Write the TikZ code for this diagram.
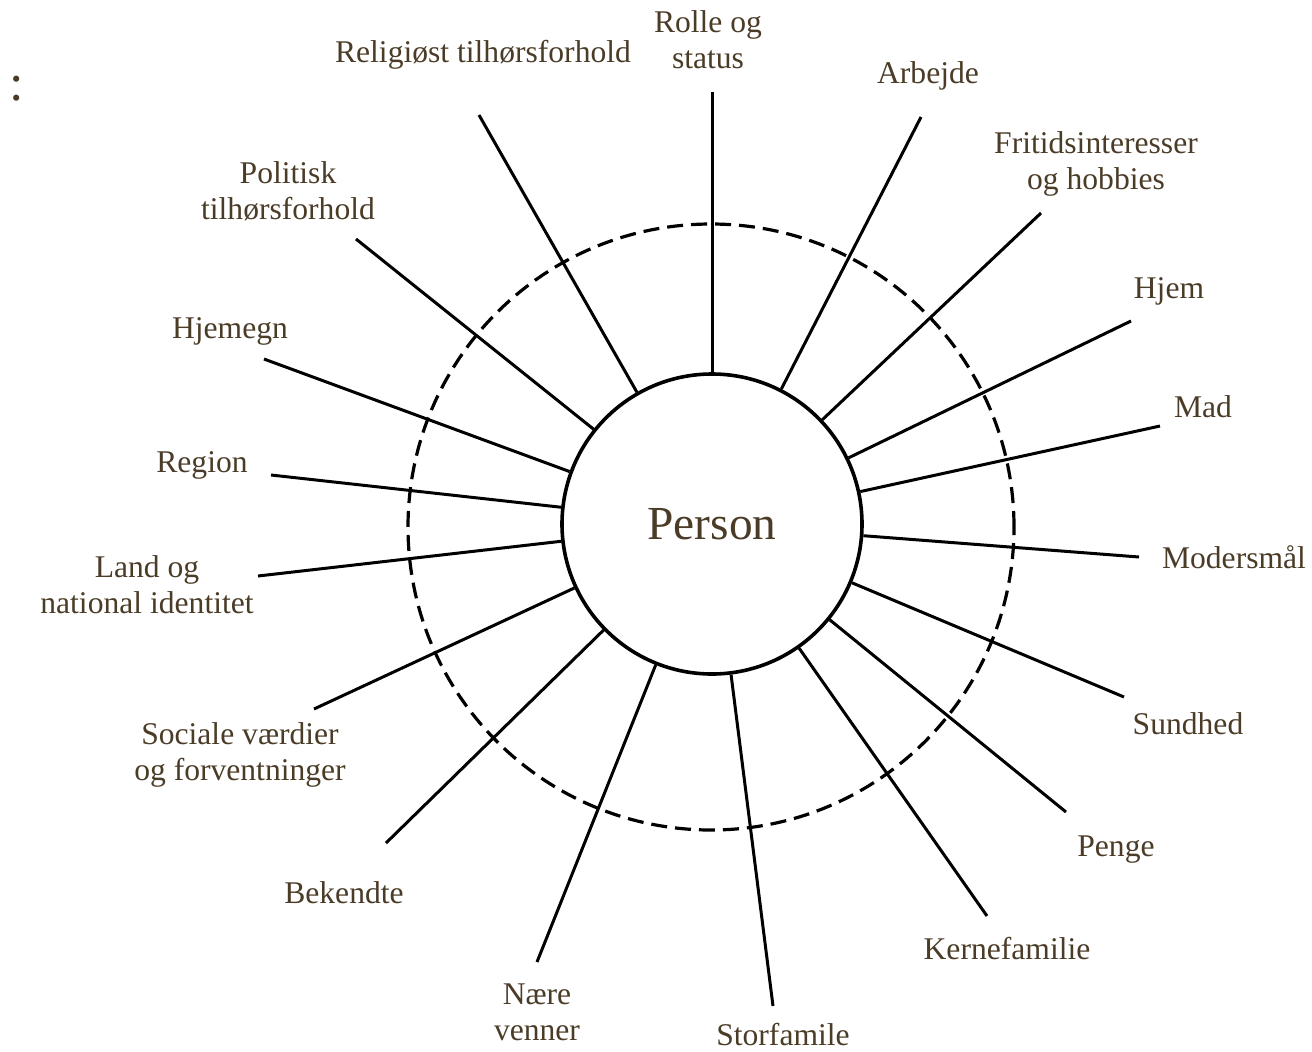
\documentclass[tikz,border=0pt]{standalone}
\usepackage{fontspec}
\setmainfont{Liberation Serif}
\definecolor{textbrown}{RGB}{75,60,40}
\begin{document}
\begin{tikzpicture}[x=0.5pt,y=-0.5pt,
  lbl/.style={text=textbrown, font=\fontsize{15.8pt}{18pt}\selectfont, align=center, anchor=base, inner sep=0pt},
  spoke/.style={line width=1.5pt, black},
  dashring/.style={line width=1.6pt, dash pattern=on 8pt off 4pt},
  personnode/.style={circle, draw, line width=1.8pt, minimum size=150pt, inner sep=0pt, text=textbrown, font=\fontsize{23.7pt}{28pt}\selectfont}]
\useasboundingbox (0,0) rectangle (1312,1051);
\draw[dashring] (711,527) circle[radius=151.5pt];
\node[personnode, fill=white] (P) at (712,524) {Person};
% outer ends
\coordinate (o1) at (712,92);
\coordinate (o2) at (921,117);
\coordinate (o3) at (1041,213);
\coordinate (o4) at (1131,321);
\coordinate (o5) at (1160,426);
\coordinate (o6) at (1139,557);
\coordinate (o7) at (1124,697);
\coordinate (o8) at (1066,812);
\coordinate (o9) at (987,916);
\coordinate (o10) at (773,1006);
\coordinate (o11) at (537,962);
\coordinate (o12) at (386,843);
\coordinate (o13) at (314,709);
\coordinate (o14) at (258,576);
\coordinate (o15) at (271,475);
\coordinate (o16) at (264,359);
\coordinate (o17) at (356,239);
\coordinate (o18) at (479,115);
\foreach \i in {1,...,18} { \draw[spoke] (P) -- (o\i); }
% labels (multi-line: anchor at baseline of last line)
\node[lbl] (l1) at (708,68) {Rolle og\\status};
\node[lbl] (l2) at (928,83) {Arbejde};
\node[lbl] (l3) at (1096,189) {Fritidsinteresser\\og hobbies};
\node[lbl] (l4) at (1169,298) {Hjem};
\node[lbl] (l5) at (1203,417) {Mad};
\node[lbl] (l6) at (1234,568) {Modersmål};
\node[lbl] (l7) at (1188,734) {Sundhed};
\node[lbl] (l8) at (1116,856) {Penge};
\node[lbl] (l9) at (1007,959) {Kernefamilie};
\node[lbl] (l10) at (783,1045) {Storfamile};
\node[lbl] (l11) at (537,1040) {Nære\\venner};
\node[lbl] (l12) at (344,903) {Bekendte};
\node[lbl] (l13) at (240,780) {Sociale værdier\\og forventninger};
\node[lbl] (l14) at (147,613) {Land og\\national identitet};
\node[lbl] (l15) at (202,472) {Region};
\node[lbl] (l16) at (230,338) {Hjemegn};
\node[lbl] (l17) at (288,219) {Politisk\\tilhørsforhold};
\node[lbl] (l18) at (483,62) {Religiøst tilhørsforhold};
\node[lbl, font=\fontsize{26pt}{30pt}\selectfont] (colon) at (17,100) {:};
\end{tikzpicture}
\end{document}
